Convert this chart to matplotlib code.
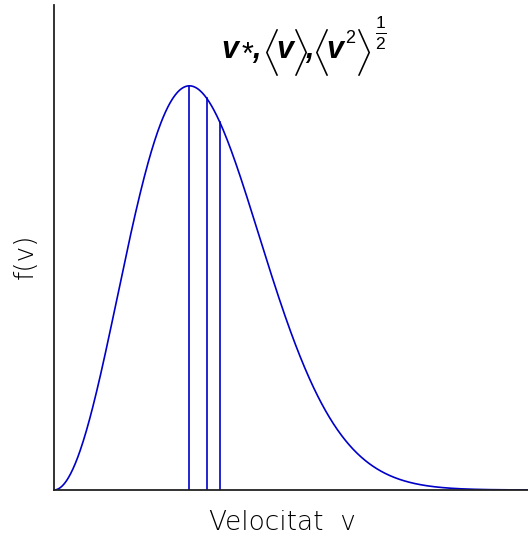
import matplotlib.pyplot as plt
import numpy as np

plt.rcParams['mathtext.fontset'] = 'custom'
plt.rcParams['mathtext.rm'] = 'Liberation Sans'
plt.rcParams['mathtext.it'] = 'Liberation Sans:italic'
plt.rcParams['mathtext.fallback'] = 'cm'

W, H = 528, 535

# Maxwell speed distribution, speed in units of the most probable speed v*
v_star = 1.0
v_max = 3.5
v = np.linspace(0, v_max, 600)

def maxwell(x):
    # normalised so that f(v*) = 1
    return (x / v_star) ** 2 * np.exp(1 - (x / v_star) ** 2)

f = maxwell(v)

# characteristic speeds: most probable, mean, rms
v_mean = 2 / np.sqrt(np.pi) * v_star
v_rms = np.sqrt(1.5) * v_star
marks = [v_star, v_mean, v_rms]

fig = plt.figure(figsize=(W / 100, H / 100), dpi=100)
ax = fig.add_axes([54 / W, 45 / H, 474 / W, 485 / H])

blue = '#0000c8'
ax.plot(v, f, color=blue, lw=1.2)
for m in marks:
    ax.plot([m, m], [0, maxwell(m)], color=blue, lw=1.2)

ax.set_xlim(0, v_max)
ax.set_ylim(0, 1.2)
ax.set_xticks([])
ax.set_yticks([])
for side in ['top', 'right']:
    ax.spines[side].set_visible(False)
for side in ['left', 'bottom']:
    ax.spines[side].set_color('#222222')
    ax.spines[side].set_linewidth(1.3)

lab = dict(fontsize=19, family='DejaVu Sans', weight=200, va='center')
ax.set_xlabel('Velocitat  v', **lab)
ax.set_ylabel('f(v)', **lab)
ax.xaxis.set_label_coords(0.481, -0.068)
ax.yaxis.set_label_coords(-0.061, 0.482)


# title pieces placed in pixel positions (x from left, y from top)
def put(x, y, s, **kw):
    fig.text(x / W, 1 - y / H, s, **kw)

sym = dict(family='Liberation Sans', style='italic', weight='bold', fontsize=22,
           ha='center', va='baseline')
thin = dict(family='Liberation Sans', ha='center', va='baseline')
brk = dict(fontsize=29, ha='center', va='center')

put(230, 58, 'v', **sym)
put(248, 64, '*', fontsize=22, **thin)
put(257, 58, ',', **sym)
put(270, 52, r'$\langle$', **brk)
put(285, 58, 'v', **sym)
put(300, 52, r'$\rangle$', **brk)
put(310, 58, ',', **sym)
put(320, 52, r'$\langle$', **brk)
put(335, 58, 'v', **sym)
put(350, 43, '2', fontsize=13, **thin)
put(363, 52, r'$\rangle$', **brk)
put(381, 33, r'$\frac{1}{2}$', fontsize=18, ha='center', va='center')

fig.savefig('out.png', dpi=100)
